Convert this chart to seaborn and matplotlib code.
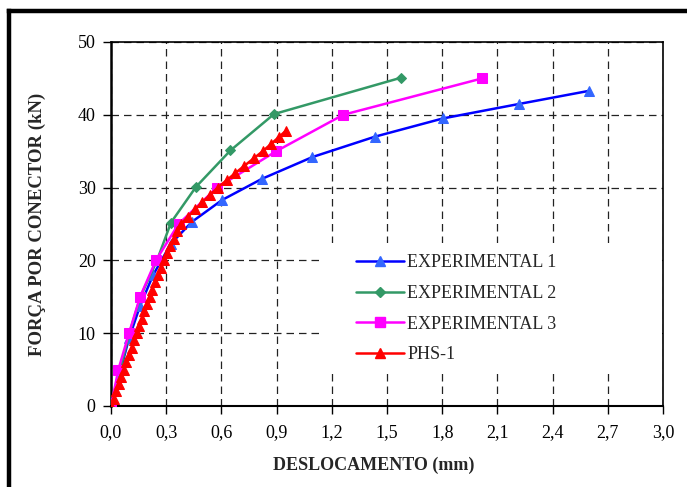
import numpy as np
import pandas as pd
import matplotlib
matplotlib.use("Agg")
import matplotlib.pyplot as plt
import seaborn as sns
from matplotlib.lines import Line2D
from matplotlib.patches import Rectangle
from matplotlib.ticker import FuncFormatter

# ---- data ----
exp1_x = [0.00, 0.098, 0.157, 0.229, 0.326, 0.44, 0.604, 0.82, 1.095, 1.435, 1.804, 2.22, 2.60]
exp1_y = [0.0, 9.3, 13.7, 18.0, 22.3, 25.3, 28.3, 31.2, 34.2, 37.0, 39.5, 41.5, 43.3]

exp2_x = [0.00, 0.05, 0.10, 0.16, 0.25, 0.326, 0.462, 0.649, 0.886, 1.577]
exp2_y = [0.0, 5.0, 10.0, 15.0, 20.0, 25.2, 30.1, 35.1, 40.1, 45.1]

exp3_x = [0.00, 0.04, 0.098, 0.158, 0.244, 0.367, 0.576, 0.898, 1.262, 2.017]
exp3_y = [0.0, 5.0, 10.0, 15.0, 20.0, 25.0, 30.0, 35.0, 40.0, 45.0]

phs_x = [0.000, 0.014, 0.028, 0.042, 0.056, 0.070, 0.084, 0.098, 0.112, 0.126,
         0.140, 0.153, 0.167, 0.181, 0.195, 0.210, 0.225, 0.241, 0.257, 0.273,
         0.290, 0.306, 0.323, 0.341, 0.360, 0.380, 0.418, 0.457, 0.497, 0.538,
         0.580, 0.628, 0.676, 0.725, 0.775, 0.825, 0.870, 0.915, 0.950]
phs_y = [0, 1, 2, 3, 4, 5, 6, 7, 8, 9,
         10, 11, 12, 13, 14, 15, 16, 17, 18, 19,
         20, 21, 22, 23, 24, 25, 26, 27, 28, 29,
         30, 31, 32, 33, 34, 35, 36, 37, 37.8]

labels = ["EXPERIMENTAL 1", "EXPERIMENTAL 2", "EXPERIMENTAL 3", "PHS-1"]
x_ticks = [0.0, 0.3, 0.6, 0.9, 1.2, 1.5, 1.8, 2.1, 2.4, 2.7, 3.0]
y_ticks = [0, 10, 20, 30, 40, 50]

# ---- style ----
sns.set_style("white")
plt.rcParams["font.family"] = ["Liberation Serif", "DejaVu Serif"]

fig = plt.figure(figsize=(6.87, 4.87), dpi=100)
ax = fig.add_axes([111/687, 1-406/487, 552/687, 364/487])

series = [
    (exp1_x, exp1_y, labels[0], "#0000FF", "^", "#3366FF", 7.5),
    (exp2_x, exp2_y, labels[1], "#339966", "D", "#339966", 5.0),
    (exp3_x, exp3_y, labels[2], "#FF00FF", "s", "#FF00FF", 6.5),
    (phs_x, phs_y, labels[3], "#FF0000", "^", "#FF0000", 7.0),
]

handles = []
for xs, ys, lab, col, mk, fc, ms in series:
    df = pd.DataFrame({"x": xs, "y": ys})
    sns.lineplot(data=df, x="x", y="y", ax=ax, sort=False, estimator=None,
                 color=col, linewidth=1.8, marker=mk, markersize=ms,
                 markerfacecolor=fc, markeredgecolor=fc, zorder=3, legend=False)
    handles.append(Line2D([0], [0], color=col, lw=1.8, marker=mk, markersize=ms,
                          markerfacecolor=fc, markeredgecolor=fc))

ax.set_xlim(0, 3.0)
ax.set_ylim(0, 50)
ax.set_xticks(x_ticks)
ax.set_yticks(y_ticks)
ax.xaxis.set_major_formatter(FuncFormatter(lambda v, p: f"{v:.1f}".replace(".", ",")))
ax.tick_params(axis="both", direction="out", length=6, width=1, colors="black",
               labelsize=13, bottom=True, left=True)
ax.tick_params(axis="x", pad=7)
ax.tick_params(axis="y", pad=5)

ax.grid(True, color="#222222", linestyle=(0, (6, 4)), linewidth=0.9, zorder=0)
ax.set_axisbelow(True)
for s in ax.spines.values():
    s.set_color("black")
    s.set_linewidth(1.2)
ax.spines["left"].set_linewidth(1.8)
ax.spines["bottom"].set_linewidth(1.5)

ax.set_xlabel("DESLOCAMENTO (mm)", fontsize=13, fontweight="bold")
ax.set_ylabel("FORÇA POR CONECTOR (kN)", fontsize=13.5, fontweight="bold")
ax.xaxis.set_label_coords(0.475, -0.138)
ax.yaxis.set_label_coords(-0.118, 0.5)

# white legend area covering the grid
ax.add_patch(Rectangle((0.382, 0.099), 0.616, 0.349, transform=ax.transAxes,
                       facecolor="white", edgecolor="none", zorder=1))
leg = ax.legend(handles, labels, loc="center left", bbox_to_anchor=(0.43, 0.267),
                frameon=False, fontsize=13, handlelength=2.7, handletextpad=0.15,
                labelspacing=0.75, borderaxespad=0)
leg.set_zorder(4)

# figure border (thick lines at left and top)
fig.add_artist(Line2D([9/687, 9/687], [0, 1-11/487], transform=fig.transFigure,
                      color="black", lw=3.2, solid_capstyle="projecting"))
fig.add_artist(Line2D([9/687, 1], [1-11/487, 1-11/487], transform=fig.transFigure,
                      color="black", lw=3.2, solid_capstyle="projecting"))

fig.savefig("out.png", dpi=100)
